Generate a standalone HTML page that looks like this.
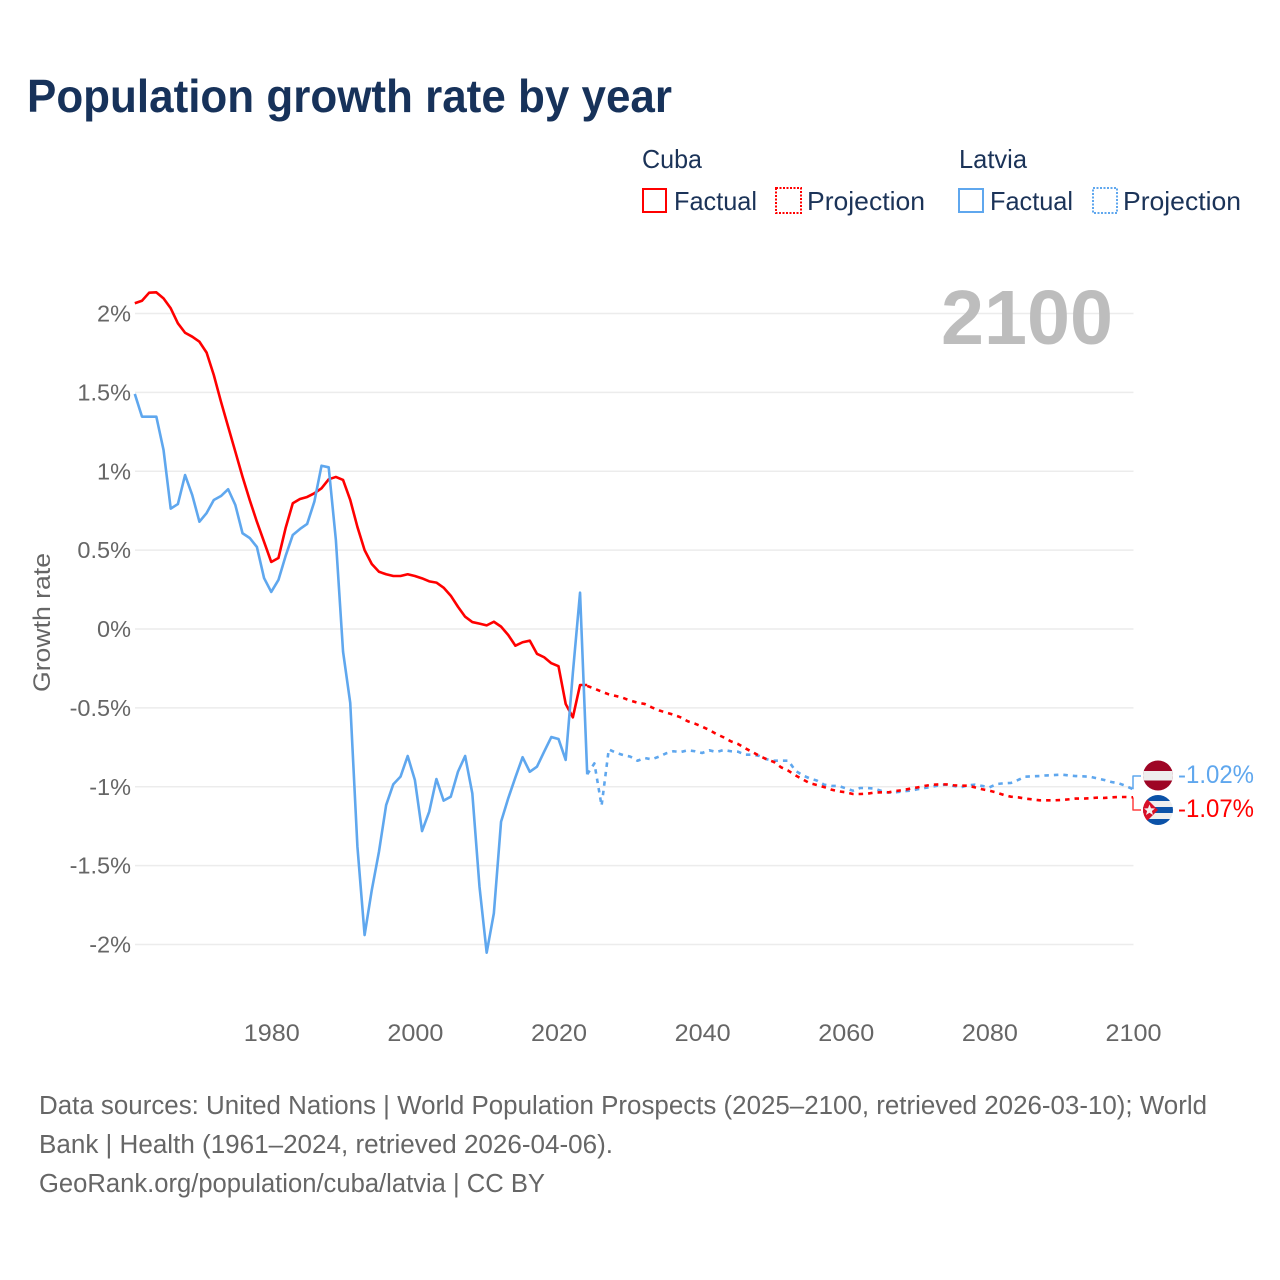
<!DOCTYPE html>
<html lang="en">
<head>
<meta charset="utf-8">
<title>Population growth rate by year</title>
<style>
html,body{margin:0;padding:0;background:#fff;}
svg{display:block;font-family:"Liberation Sans",sans-serif;}
</style>
</head>
<body>
<svg id="chart" xmlns="http://www.w3.org/2000/svg" width="1280" height="1280" viewBox="0 0 1280 1280">
  <defs>
    <clipPath id="clip-lv"><circle cx="1158" cy="775.5" r="15"/></clipPath>
    <clipPath id="clip-cu"><circle cx="1158" cy="810" r="15"/></clipPath>
  </defs>
  <rect x="0" y="0" width="1280" height="1280" fill="#ffffff"/>
  <text x="27" y="112" font-size="46.5" font-weight="700" fill="#17325a" textLength="645" lengthAdjust="spacingAndGlyphs">Population growth rate by year</text>

  <g font-size="26" fill="#1b3358">
    <text x="642" y="168" textLength="60" lengthAdjust="spacingAndGlyphs">Cuba</text>
    <rect x="643" y="189" width="23" height="23" fill="none" stroke="#ff0000" stroke-width="2"/>
    <text x="674" y="210" textLength="83" lengthAdjust="spacingAndGlyphs">Factual</text>
    <rect x="776" y="188" width="25" height="25" fill="none" stroke="#ff0000" stroke-width="2" stroke-dasharray="2 1.5"/>
    <text x="807" y="210" textLength="118" lengthAdjust="spacingAndGlyphs">Projection</text>
    <text x="959" y="168" textLength="68" lengthAdjust="spacingAndGlyphs">Latvia</text>
    <rect x="959" y="189" width="24" height="23" fill="none" stroke="#5fa7ee" stroke-width="2"/>
    <text x="990" y="210" textLength="83" lengthAdjust="spacingAndGlyphs">Factual</text>
    <rect x="1093" y="188" width="24" height="25" fill="none" stroke="#5fa7ee" stroke-width="2" stroke-dasharray="2 1.5"/>
    <text x="1123" y="210" textLength="118" lengthAdjust="spacingAndGlyphs">Projection</text>
  </g>

  <g id="grid"></g>
  <text x="941" y="344" font-size="77" font-weight="700" fill="#bdbdbd" textLength="172" lengthAdjust="spacingAndGlyphs">2100</text>
  <g id="yticks" font-size="23.5" fill="#666666" text-anchor="end"></g>
  <g id="xticks" font-size="24" fill="#666666" text-anchor="middle"></g>
  <text transform="translate(50,692) rotate(-90)" font-size="24.5" fill="#666666" textLength="139" lengthAdjust="spacingAndGlyphs">Growth rate</text>
  <g id="series" fill="none" stroke-linejoin="round"></g>

  <g clip-path="url(#clip-lv)">
    <rect x="1143" y="760" width="30" height="31" fill="#9e0525"/>
    <rect x="1143" y="771" width="30" height="9.5" fill="#eeeeee"/>
  </g>
  <g clip-path="url(#clip-cu)">
    <rect x="1143" y="795" width="30" height="30" fill="#eeeeee"/>
    <rect x="1143" y="795" width="30" height="6" fill="#0b52a8"/>
    <rect x="1143" y="807" width="30" height="6" fill="#0b52a8"/>
    <rect x="1143" y="819" width="30" height="6" fill="#0b52a8"/>
    <polygon points="1143,795 1158,810 1143,825" fill="#d80f27"/>
    <polygon points="1149.5,804.5 1151,808.3 1155,808.5 1151.9,811 1153,815 1149.5,812.8 1146,815 1147.1,811 1144,808.5 1148,808.3" fill="#f2f2f2"/>
  </g>
  <g id="endlabels" font-size="25"></g>

  <g font-size="25.5" fill="#666666">
    <text x="39" y="1114" textLength="1168" lengthAdjust="spacingAndGlyphs">Data sources: United Nations | World Population Prospects (2025–2100, retrieved 2026-03-10); World</text>
    <text x="39" y="1153" textLength="574" lengthAdjust="spacingAndGlyphs">Bank | Health (1961–2024, retrieved 2026-04-06).</text>
    <text x="39" y="1192" textLength="506" lengthAdjust="spacingAndGlyphs">GeoRank.org/population/cuba/latvia | CC BY</text>
  </g>
</svg>
<script>
const factualStartYear = 1961;
const projectionStartYear = 2024;
const yTickValues = [2, 1.5, 1, 0.5, 0, -0.5, -1, -1.5, -2];
const yTickLabels = ["2%", "1.5%", "1%", "0.5%", "0%", "-0.5%", "-1%", "-1.5%", "-2%"];
const xTickYears = [1980, 2000, 2020, 2040, 2060, 2080, 2100];
const cubaFactual = [2.065,2.081,2.132,2.134,2.096,2.033,1.938,1.878,1.853,1.821,1.752,1.610,1.441,1.282,1.124,0.965,0.818,0.680,0.553,0.425,0.450,0.640,0.797,0.824,0.837,0.860,0.892,0.949,0.964,0.945,0.818,0.647,0.500,0.412,0.363,0.347,0.336,0.336,0.347,0.336,0.321,0.302,0.294,0.262,0.211,0.141,0.078,0.044,0.034,0.023,0.046,0.015,-0.038,-0.106,-0.084,-0.074,-0.157,-0.179,-0.217,-0.236,-0.475,-0.560,-0.355,-0.355];
const cubaProjection = [-0.361,-0.378,-0.397,-0.414,-0.425,-0.437,-0.454,-0.467,-0.475,-0.497,-0.516,-0.530,-0.543,-0.560,-0.585,-0.600,-0.619,-0.640,-0.666,-0.687,-0.712,-0.729,-0.756,-0.780,-0.805,-0.826,-0.843,-0.877,-0.898,-0.928,-0.953,-0.978,-0.989,-1.002,-1.018,-1.029,-1.035,-1.046,-1.046,-1.044,-1.037,-1.035,-1.035,-1.027,-1.021,-1.012,-1.004,-0.995,-0.987,-0.985,-0.985,-0.991,-0.993,-0.993,-1.004,-1.016,-1.025,-1.037,-1.052,-1.063,-1.067,-1.075,-1.080,-1.086,-1.086,-1.086,-1.084,-1.080,-1.075,-1.075,-1.073,-1.069,-1.071,-1.067,-1.065,-1.065,-1.067];
const latviaFactual = [1.490,1.346,1.346,1.346,1.135,0.763,0.792,0.976,0.849,0.680,0.735,0.818,0.843,0.886,0.786,0.607,0.577,0.520,0.323,0.235,0.311,0.463,0.596,0.634,0.666,0.807,1.035,1.025,0.564,-0.144,-0.469,-1.380,-1.940,-1.655,-1.412,-1.116,-0.984,-0.936,-0.805,-0.957,-1.281,-1.158,-0.951,-1.088,-1.063,-0.905,-0.805,-1.042,-1.634,-2.052,-1.802,-1.222,-1.073,-0.940,-0.813,-0.905,-0.873,-0.778,-0.685,-0.697,-0.830,-0.279,0.230,-0.921];
const latviaProjection = [-0.921,-0.852,-1.120,-0.763,-0.784,-0.799,-0.809,-0.835,-0.818,-0.826,-0.809,-0.788,-0.775,-0.780,-0.769,-0.775,-0.786,-0.769,-0.780,-0.767,-0.775,-0.778,-0.797,-0.797,-0.805,-0.826,-0.835,-0.835,-0.835,-0.898,-0.928,-0.947,-0.961,-0.987,-0.995,-0.995,-1.010,-1.025,-1.008,-1.008,-1.012,-1.027,-1.037,-1.035,-1.029,-1.025,-1.016,-1.008,-1.000,-0.991,-0.987,-0.995,-1.004,-0.991,-0.987,-0.995,-1.004,-0.983,-0.978,-0.976,-0.957,-0.936,-0.934,-0.932,-0.928,-0.926,-0.923,-0.928,-0.932,-0.934,-0.936,-0.947,-0.957,-0.970,-0.978,-0.995,-1.016];

const NS = "http://www.w3.org/2000/svg";
const RED = "#ff0000";
const BLUE = "#5fa7ee";
function xScale(year) { return 134.8 + (year - 1961) * (1133 - 134.8) / (2100 - 1961); }
function yScale(v) { return 629 - v * 157.75; }
function make(tag, parent) {
  const el = document.createElementNS(NS, tag);
  parent.appendChild(el);
  return el;
}
function pathFor(values, startYear) {
  return values.map(function (v, i) {
    return (i ? "L" : "M") + xScale(startYear + i).toFixed(2) + " " + yScale(v).toFixed(2);
  }).join("");
}

const grid = document.getElementById("grid");
const yticks = document.getElementById("yticks");
yTickValues.forEach(function (v, i) {
  const line = make("line", grid);
  
  
  line.setAttribute("x1", 135);
  line.setAttribute("x2", 1133.5);
  line.setAttribute("y1", yScale(v));
  line.setAttribute("y2", yScale(v));
  line.setAttribute("stroke", "#ececec");
  line.setAttribute("stroke-width", "1.5");
  const label = make("text", yticks);
  
  
  label.setAttribute("x", 131);
  label.setAttribute("y", yScale(v) + 8);
  label.textContent = yTickLabels[i];
});

const xticks = document.getElementById("xticks");
xTickYears.forEach(function (year) {
  const label = make("text", xticks);
  
  
  label.setAttribute("x", xScale(year) + 0.5);
  label.setAttribute("y", 1041);
  label.setAttribute("textLength", 56);
  label.setAttribute("lengthAdjust", "spacingAndGlyphs");
  label.textContent = year;
});

const series = document.getElementById("series");
const cubaFactualLine = make("path", series);


cubaFactualLine.setAttribute("d", pathFor(cubaFactual, factualStartYear));
cubaFactualLine.setAttribute("stroke", RED);
cubaFactualLine.setAttribute("stroke-width", "2.6");

const latviaFactualLine = make("path", series);


latviaFactualLine.setAttribute("d", pathFor(latviaFactual, factualStartYear));
latviaFactualLine.setAttribute("stroke", BLUE);
latviaFactualLine.setAttribute("stroke-width", "2.6");

const latviaProjectionLine = make("path", series);


latviaProjectionLine.setAttribute("d", pathFor(latviaProjection, projectionStartYear));
latviaProjectionLine.setAttribute("stroke", BLUE);
latviaProjectionLine.setAttribute("stroke-width", "2.6");
latviaProjectionLine.setAttribute("stroke-dasharray", "4.5 5");

const cubaProjectionLine = make("path", series);


cubaProjectionLine.setAttribute("d", pathFor(cubaProjection, projectionStartYear));
cubaProjectionLine.setAttribute("stroke", RED);
cubaProjectionLine.setAttribute("stroke-width", "2.6");
cubaProjectionLine.setAttribute("stroke-dasharray", "4.5 5");

const endX = xScale(2100);
const latviaEnd = latviaProjection[latviaProjection.length - 1];
const cubaEnd = cubaProjection[cubaProjection.length - 1];

const latviaConnector = make("path", series);


latviaConnector.setAttribute("d", "M" + endX + " " + yScale(latviaEnd) + "V776H1141");
latviaConnector.setAttribute("stroke", BLUE);
latviaConnector.setAttribute("stroke-width", "1.5");

const cubaConnector = make("path", series);


cubaConnector.setAttribute("d", "M" + endX + " " + yScale(cubaEnd) + "V810H1141");
cubaConnector.setAttribute("stroke", RED);
cubaConnector.setAttribute("stroke-opacity", "0.75");
cubaConnector.setAttribute("stroke-width", "1.5");

const endlabels = document.getElementById("endlabels");
const latviaLabel = make("text", endlabels);


latviaLabel.setAttribute("x", 1178);
latviaLabel.setAttribute("y", 783);
latviaLabel.setAttribute("fill", BLUE);
latviaLabel.setAttribute("textLength", 76);
latviaLabel.setAttribute("lengthAdjust", "spacingAndGlyphs");
latviaLabel.textContent = latviaEnd.toFixed(2) + "%";

const cubaLabel = make("text", endlabels);


cubaLabel.setAttribute("x", 1178);
cubaLabel.setAttribute("y", 817);
cubaLabel.setAttribute("fill", RED);
cubaLabel.setAttribute("textLength", 76);
cubaLabel.setAttribute("lengthAdjust", "spacingAndGlyphs");
cubaLabel.textContent = cubaEnd.toFixed(2) + "%";
</script>
</body>
</html>
